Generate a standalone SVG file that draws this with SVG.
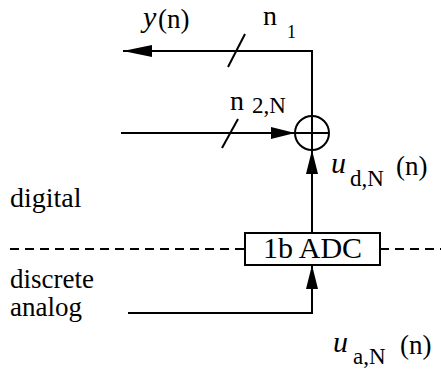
<svg xmlns="http://www.w3.org/2000/svg" width="441" height="369" viewBox="0 0 441 369">
<style>
.ln{stroke:#000;stroke-width:2;fill:none}
.t{font-family:"Liberation Serif","Times New Roman",serif;fill:#000}
.it{font-style:italic}
</style>
<defs>
<marker id="ah" markerUnits="userSpaceOnUse" markerWidth="24" markerHeight="12" refX="24" refY="6" orient="auto">
<path d="M0,0 L24,6 L0,12 z" fill="#000"/>
</marker>
<marker id="ahl" markerUnits="userSpaceOnUse" markerWidth="29" markerHeight="12" refX="29" refY="6" orient="auto">
<path d="M0,0 L29,6 L0,12 z" fill="#000"/>
</marker>
</defs>
<rect width="441" height="369" fill="#fff"/>
<g id="connectors">
<path class="ln" d="M312,116 L312,51 L123,51" stroke-width="2.5" marker-end="url(#ahl)"/>
<line class="ln" x1="245" y1="34" x2="228" y2="67"/>
<line class="ln" x1="121" y1="133" x2="295" y2="133" marker-end="url(#ah)"/>
<line class="ln" x1="238" y1="119" x2="222" y2="148"/>
<line class="ln" x1="312" y1="233" x2="312" y2="150" marker-end="url(#ah)"/>
<path class="ln" d="M128,313 L312,313 L312,265" marker-end="url(#ah)"/>
<line class="ln" x1="10" y1="249" x2="245" y2="249" stroke-dasharray="9 6"/>
<line class="ln" x1="380" y1="249" x2="441" y2="249" stroke-dasharray="9 6"/>
</g>
<g id="sum">
<circle class="ln" cx="312" cy="133" r="17"/>
<line class="ln" x1="295" y1="133" x2="329" y2="133"/>
<line class="ln" x1="312" y1="116" x2="312" y2="150"/>
</g>
<g id="adc">
<rect class="ln" x="245" y="233" width="135" height="32" fill="#fff"/>
<text class="t" x="312.5" y="258" font-size="30" text-anchor="middle">1b ADC</text>
</g>
<g id="labels">
<text class="t it" x="143" y="27" font-size="30">y</text>
<text class="t" x="158" y="28" font-size="27">(n)</text>
<text class="t" x="263" y="25" font-size="28">n</text>
<text class="t" x="287" y="38" font-size="18">1</text>
<text class="t" x="230" y="110" font-size="28">n</text>
<text class="t" x="252" y="113" font-size="23">2,N</text>
<text class="t it" x="331" y="173" font-size="30">u</text>
<text class="t" x="350" y="186" font-size="23">d,N</text>
<text class="t" x="396" y="175" font-size="27">(n)</text>
<text class="t" x="10" y="207" font-size="28">digital</text>
<text class="t" x="10" y="288" font-size="27">discrete</text>
<text class="t" x="10" y="316" font-size="27">analog</text>
<text class="t it" x="333" y="352" font-size="30">u</text>
<text class="t" x="353" y="364" font-size="23">a,N</text>
<text class="t" x="400" y="354" font-size="27">(n)</text>
</g>
</svg>
